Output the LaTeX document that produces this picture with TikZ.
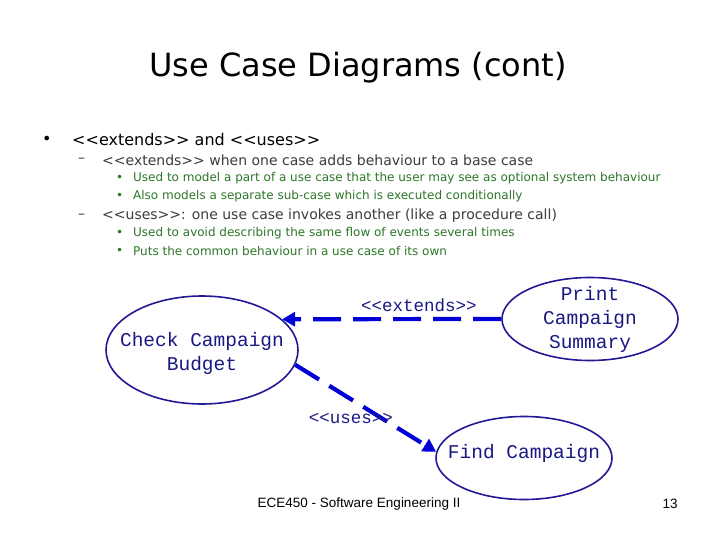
\documentclass[tikz,border=0pt]{standalone}
\usepackage{fontspec}
\setmainfont{DejaVu Sans}
\newfontfamily\casefont{Liberation Mono}
\newfontfamily\footfont{Liberation Sans}
\usetikzlibrary{shapes.geometric,arrows.meta}
\definecolor{casenavy}{RGB}{35,25,150}
\definecolor{linkblue}{RGB}{0,0,215}
\definecolor{casetext}{RGB}{25,25,130}
\definecolor{subgrey}{RGB}{60,60,60}
\definecolor{notegreen}{RGB}{45,118,40}
\tikzset{
	usecase/.style={ellipse, draw=casenavy, line width=1.6pt, inner sep=0pt},
	casetxt/.style={text=casetext, font=\casefont\fontsize{19.5}{24}\selectfont, align=center, inner sep=0pt},
	linklabel/.style={text=casetext, font=\casefont\fontsize{17.5}{20}\selectfont, inner sep=0pt},
	dashlink/.style={draw=linkblue, line width=4.2pt, dash pattern=on 28pt off 12pt, -{Triangle[length=13pt,width=14pt]}},
	lvlone/.style={anchor=west, inner sep=0pt, font=\fontsize{16}{19}\selectfont},
	lvltwo/.style={anchor=west, inner sep=0pt, text=subgrey, font=\fontsize{14}{16}\selectfont},
	lvlthree/.style={anchor=west, inner sep=0pt, text=notegreen, font=\fontsize{12}{14}\selectfont}
}
\begin{document}
\begin{tikzpicture}[x=1pt,y=-1pt]
			%%%%% START %%%%%
			\useasboundingbox[fill=white] (0,0) rectangle (720,540);
			
			\node[inner sep=0pt, font=\fontsize{32}{36}\selectfont] (title) at (358,68) {Use Case Diagrams (cont)};
			
			\node[lvlone] (b1) at (42,140) {\textbullet};
			\node[lvlone] (t1) at (72,140) {<{}<extends>{}> and <{}<uses>{}>};
			
			\node[lvltwo] (d1) at (78,160) {--};
			\node[lvltwo] (t2) at (102,160) {<{}<extends>{}> when one case adds behaviour to a base case};
			\node[lvlthree] (b3) at (116,178) {\textbullet};
			\node[lvlthree] (t3) at (133,178) {Used to model a part of a use case that the user may see as optional system behaviour};
			\node[lvlthree] (b4) at (116,196) {\textbullet};
			\node[lvlthree] (t4) at (133,196) {Also models a separate sub-case which is executed conditionally};
			
			\node[lvltwo] (d2) at (78,216) {--};
			\node[lvltwo] (t5) at (102,216) {<{}<uses>{}>: one use case invokes another (like a procedure call)};
			\node[lvlthree] (b6) at (116,233) {\textbullet};
			\node[lvlthree] (t6) at (133,233) {Used to avoid describing the same flow of events several times};
			\node[lvlthree] (b7) at (116,251) {\textbullet};
			\node[lvlthree] (t7) at (133,251) {Puts the common behaviour in a use case of its own};
			
			% use cases
			\node[usecase, minimum width=192pt, minimum height=108pt] (check) at (202,350) {};
			\node[casetxt] (checktxt) at ([yshift=-3pt]check.center) {Check Campaign\\Budget};
			\node[usecase, minimum width=176pt, minimum height=83pt] (print) at (590,319) {};
			\node[casetxt] (printtxt) at (print) {Print\\Campaign\\Summary};
			\node[usecase, minimum width=176pt, minimum height=83pt] (find) at (524,458) {};
			\node[casetxt] (findtxt) at ([yshift=5pt]find.center) {Find Campaign};
			
			% links
			\draw[dashlink] (print.west) -- (check.21);
			\node[linklabel] (extlabel) at (419,305) {<{}<extends>{}>};
			\draw[dashlink] (check.-9) -- (find.176);
			\node[linklabel] (useslabel) at (351,418) {<{}<uses>{}>};
			
			\node[inner sep=0pt, font=\footfont\fontsize{13.5}{16}\selectfont] (foot) at (359,504) {ECE450 - Software Engineering II};
			\node[inner sep=0pt, font=\footfont\fontsize{13.5}{16}\selectfont] (page) at (670,504) {13};
			%%%%% END %%%%%
		\end{tikzpicture}
\end{document}
